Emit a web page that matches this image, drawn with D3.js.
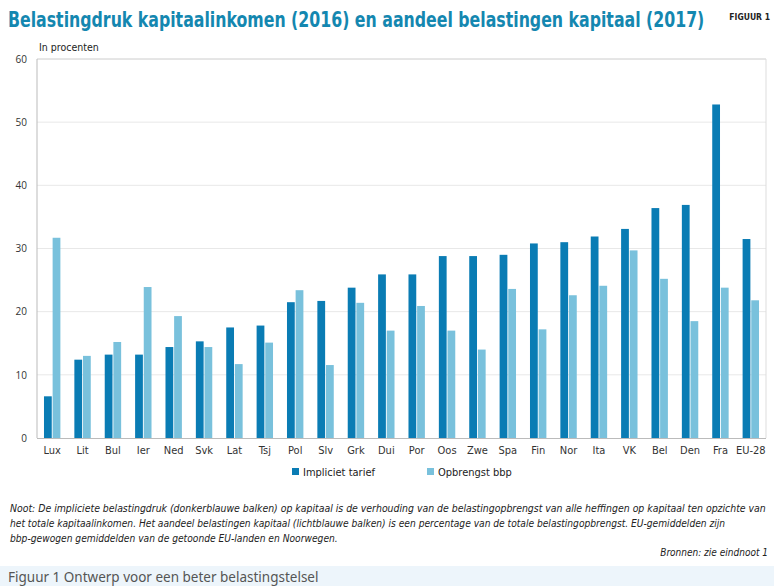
<!DOCTYPE html>
<html><head><meta charset="utf-8">
<script src="https://cdn.jsdelivr.net/npm/d3@7"></script>
<style>body{margin:0;background:#fff}svg{display:block}</style>
</head><body>
<script>
const categories = ["Lux","Lit","Bul","Ier","Ned","Svk","Lat","Tsj","Pol","Slv","Grk","Dui","Por","Oos","Zwe","Spa","Fin","Nor","Ita","VK","Bel","Den","Fra","EU-28"];
const impliciet = [6.6,12.4,13.2,13.2,14.4,15.3,17.5,17.8,21.5,21.7,23.8,25.9,25.9,28.8,28.8,29.0,30.8,31.0,31.9,33.1,36.4,36.9,52.8,31.5];
const opbrengst = [31.7,13.0,15.2,23.9,19.3,14.4,11.7,15.1,23.4,11.55,21.4,17.0,20.9,17.0,14.0,23.6,17.2,22.6,24.1,29.7,25.2,18.5,23.8,21.8];
const seriesNames = ["Impliciet tarief","Opbrengst bbp"];
const yTicks = [0,10,20,30,40,50,60];

const W=774,H=586;
const svg=d3.select("body").append("svg").attr("width",W).attr("height",H);
const dark="#0a7cb4", light="#79c1dc";
const cond="'DejaVu Sans Condensed','DejaVu Sans',sans-serif";

// fit text to a width by horizontal scaling
function fitText(sel, x, yPos, width){
  const len=sel.node().getComputedTextLength();
  const s=width/len;
  sel.attr("x",0).attr("y",0).attr("transform",`translate(${x},${yPos}) scale(${s},1)`);
}

// bottom band
svg.append("rect").attr("x",0).attr("y",566).attr("width",W).attr("height",20).attr("fill","#edf5fb");
svg.append("text").attr("x",8).attr("y",582).attr("font-family","'Noto Sans',sans-serif").attr("font-size",13.5).attr("fill","#555").text("Figuur 1 Ontwerp voor een beter belastingstelsel");

// title
const title=svg.append("text").attr("font-family",cond).attr("font-weight","bold").attr("font-size",22).attr("fill","#1487b0")
  .text("Belastingdruk kapitaalinkomen (2016) en aandeel belastingen kapitaal (2017)");
fitText(title,8,27,697);
svg.append("text").attr("x",770).attr("y",20).attr("text-anchor","end").attr("font-family",cond).attr("font-weight","bold").attr("font-size",8.5).attr("fill","#222").text("FIGUUR 1");

const m={l:37,r:766,t:59,b:438};
const x=d3.scaleBand().domain(categories).range([m.l,m.r]).paddingInner(0.46).paddingOuter(0.23);
const x1=d3.scaleBand().domain(seriesNames).range([0,x.bandwidth()]).paddingInner(0.1);
const y=d3.scaleLinear().domain([0,60]).range([m.b,m.t]);

// gridlines
svg.append("g").selectAll("line").data(yTicks.filter(d=>d>0)).join("line")
  .attr("x1",m.l).attr("x2",m.r).attr("y1",d=>y(d)).attr("y2",d=>y(d))
  .attr("stroke",d=>d===60?"#ccc":"#e8e8e8").attr("stroke-width",1);
svg.append("line").attr("x1",m.r).attr("x2",m.r).attr("y1",m.t).attr("y2",m.b).attr("stroke","#ddd");
svg.append("line").attr("x1",m.l).attr("x2",m.l).attr("y1",m.t).attr("y2",m.b).attr("stroke","#bbb");

// y axis labels
const yAxis=d3.axisLeft(y).tickValues(yTicks).tickSize(0).tickPadding(10);
const ga=svg.append("g").attr("transform",`translate(${m.l},0)`).call(yAxis);
ga.select(".domain").remove();
ga.selectAll("text").attr("font-family","'Open Sans',sans-serif").attr("font-size",10).attr("fill","#333");

svg.append("text").attr("x",39).attr("y",51).attr("font-family",cond).attr("font-size",10.5).attr("fill","#222").text("In procenten");

// bars
const g=svg.append("g");
categories.forEach((c,i)=>{
  const vals=[impliciet[i],opbrengst[i]];
  g.selectAll(null).data(vals).join("rect")
    .attr("x",(d,j)=>x(c)+x1(seriesNames[j]))
    .attr("width",x1.bandwidth())
    .attr("y",d=>y(d)).attr("height",d=>y(0)-y(d))
    .attr("fill",(d,j)=>j===0?dark:light);
});
// baseline
svg.append("line").attr("x1",m.l).attr("x2",m.r).attr("y1",m.b+0.5).attr("y2",m.b+0.5).attr("stroke","#bbb");

// x axis labels
const xAxis=d3.axisBottom(x).tickSize(0).tickPadding(8);
const gx=svg.append("g").attr("transform",`translate(0,${m.b})`).call(xAxis);
gx.select(".domain").remove();
gx.selectAll("text").attr("font-family",cond).attr("font-size",11).attr("fill","#333");

// legend
const leg=[{n:seriesNames[0],c:dark,x:292},{n:seriesNames[1],c:light,x:427}];
leg.forEach(l=>{
  svg.append("rect").attr("x",l.x).attr("y",468).attr("width",7).attr("height",7).attr("fill",l.c);
  svg.append("text").attr("x",l.x+11).attr("y",476).attr("font-family",cond).attr("font-size",11).attr("fill","#222").text(l.n);
});

// note
const noteLines=[
 ["Noot: De impliciete belastingdruk (donkerblauwe balken) op kapitaal is de verhouding van de belastingopbrengst van alle heffingen op kapitaal ten opzichte van",757],
 ["het totale kapitaalinkomen. Het aandeel belastingen kapitaal (lichtblauwe balken) is een percentage van de totale belastingopbrengst. EU-gemiddelden zijn",716],
 ["bbp-gewogen gemiddelden van de getoonde EU-landen en Noorwegen.",328]
];
noteLines.forEach((l,i)=>{
  const t=svg.append("text").attr("font-family",cond).attr("font-style","italic").attr("font-size",10.5).attr("fill","#222").text(l[0]);
  fitText(t,10,512+i*15,l[1]);
});
svg.append("text").attr("x",768).attr("y",556).attr("text-anchor","end").attr("font-family",cond).attr("font-style","italic").attr("font-size",10).attr("fill","#222").text("Bronnen: zie eindnoot 1");
</script>
</body></html>
